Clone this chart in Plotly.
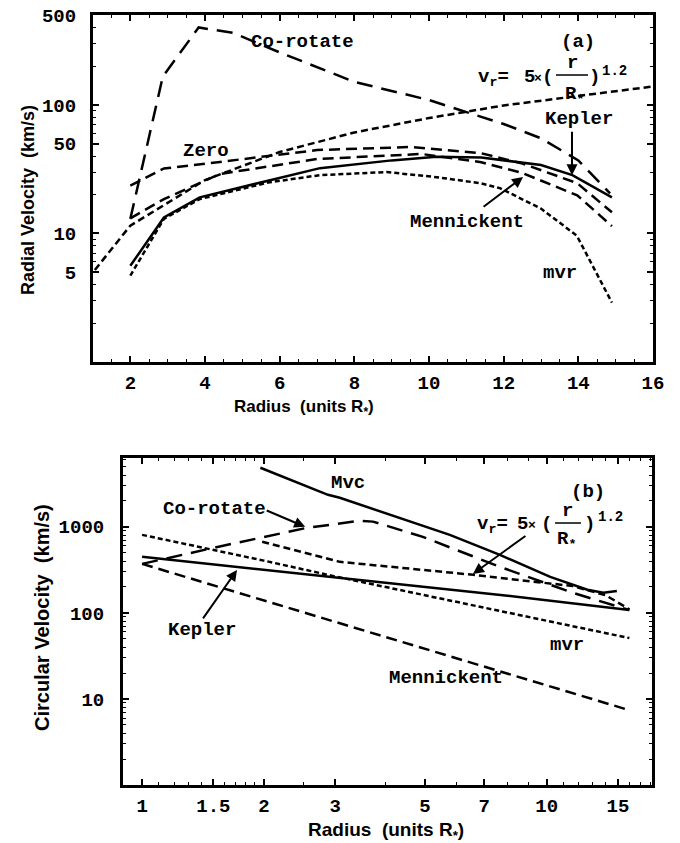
import math
import plotly.graph_objects as go

# ---------------- Panel (a): radial velocity ----------------
r_corot_a = [2.0, 2.87, 3.83, 4.75, 6.0, 8.0, 10.0, 12.0, 13.0, 14.0, 14.85]
v_corot_a = [13.0, 166, 400, 363, 256, 151, 109, 71, 55, 37, 20.5]

r_vr_a = [1.05, 2, 4, 6, 8, 10, 12, 14, 16]
v_vr_a = [5.2, 11.5, 26, 43, 61, 79, 99, 118, 139]

r_zero_a = [2.0, 2.9, 4.4, 7.0, 9.5, 11.4, 12.5, 13.97, 14.9]
v_zero_a = [23.5, 32, 36, 44.5, 47, 42, 35, 24.6, 14.6]

r_menn_a = [2.0, 2.9, 4.4, 7.0, 9.8, 11.4, 12.5, 13.97, 14.9]
v_menn_a = [13.1, 18.5, 29, 37.9, 41.5, 35.8, 29.5, 19.8, 11.4]

r_kep_a = [2.0, 2.9, 3.86, 5.73, 7.08, 9.0, 10.2, 11.4, 13.0, 13.84, 14.9]
v_kep_a = [5.6, 13.3, 19.1, 26, 32.2, 37, 39.5, 39, 34, 28.4, 19.1]

r_mvr_a = [2.0, 2.9, 3.86, 5.73, 7.08, 8.87, 10.2, 11.37, 11.9, 13.0, 13.96, 14.9]
v_mvr_a = [4.7, 13.0, 18.5, 25, 28.4, 30, 27.4, 24.6, 22.5, 15.6, 9.6, 2.9]

xt_a = [2, 4, 6, 8, 10, 12, 14, 16]
yt_a = [5, 10, 50, 100, 500]

# ---------------- Panel (b): circular velocity ----------------
r_mvc_b = [1.96, 2.88, 3.08, 5.76, 7.66, 10.2, 12.6, 13.8, 14.9]
v_mvc_b = [4860, 2356, 2175, 807, 472, 262, 186, 171, 180]

r_corot_b = [1.0, 1.5, 2.55, 3.45, 3.72, 4.94, 7.66, 11.6, 16.0]
v_corot_b = [371, 570, 973, 1175, 1150, 765, 343, 171, 108]

r_vr_b = [1.98, 3.08, 6.58, 11.6, 14.0, 16.0]
v_vr_b = [670, 392, 277, 205, 160, 110]

r_mvr_b = [1.0, 2.0, 3.0, 5.0, 7.0, 10.0, 16.0]
v_mvr_b = [807, 405, 265, 160, 115, 80, 51]

r_kep_b = [1.0, 2.0, 4.0, 8.0, 16.0]
v_kep_b = [448, 316, 224, 158, 108]

r_menn_b = [1.0, 2.0, 4.0, 8.0, 16.0]
v_menn_b = [371, 140, 52, 19.6, 7.4]

xt_b = [1, 1.5, 2, 3, 5, 7, 10, 15]
yt_b = [10, 100, 1000]

# ---------------- figure ----------------
W, H = 680, 843
def px(x): return x / W
def py(y): return 1 - y / H

MONO = "Liberation Mono"
SANS = "Liberation Sans"

fig = go.Figure()

def add(r, v, dash, xa, ya):
    fig.add_trace(go.Scatter(x=r, y=v, mode="lines",
                             line=dict(color="black", width=2.5, dash=dash),
                             xaxis=xa, yaxis=ya, showlegend=False, hoverinfo="skip"))

LONG = "16px,9px"
MED = "11px,6px"
SHORT = "7px,4px"
DOT = "5px,3px"

add(r_corot_a, v_corot_a, LONG, "x", "y")
add(r_vr_a, v_vr_a, SHORT, "x", "y")
add(r_zero_a, v_zero_a, MED, "x", "y")
add(r_menn_a, v_menn_a, MED, "x", "y")
add(r_kep_a, v_kep_a, "solid", "x", "y")
add(r_mvr_a, v_mvr_a, DOT, "x", "y")

add(r_mvc_b, v_mvc_b, "solid", "x2", "y2")
add(r_corot_b, v_corot_b, LONG, "x2", "y2")
add(r_vr_b, v_vr_b, SHORT, "x2", "y2")
add(r_mvr_b, v_mvr_b, DOT, "x2", "y2")
add(r_kep_b, v_kep_b, "solid", "x2", "y2")
add(r_menn_b, v_menn_b, MED, "x2", "y2")

tickfont = dict(family=MONO, size=19, color="black", weight="bold")
common = dict(showline=True, linewidth=3, linecolor="black", mirror="allticks",
              ticks="inside", ticklen=6, tickwidth=1.5, tickcolor="black",
              showgrid=False, zeroline=False, tickfont=tickfont, automargin=False)

minor_a_y = [m * d for d in (1, 10, 100) for m in range(2, 10) if m * d < 500]
minor_b_y = [m * d for d in (1, 10, 100, 1000) for m in range(2, 10) if m * d < 6300]
minor_b_x = [0.9] + [1 + 0.1 * i for i in range(1, 10)] + [2.5, 4, 6, 8, 9] + list(range(11, 19))

fig.update_layout(
    width=W, height=H, margin=dict(l=0, r=0, t=0, b=0, autoexpand=False),
    paper_bgcolor="white", plot_bgcolor="white",
    xaxis=dict(domain=[px(93), px(653)], anchor="y", range=[1, 16],
               tickvals=xt_a, ticktext=[str(v) for v in xt_a], ticklabelstandoff=1,
               minor=dict(dtick=0.5, ticklen=3, tickwidth=1, tickcolor="black", ticks="inside"),
               **common),
    yaxis=dict(domain=[py(362), py(15)], anchor="x", type="log", range=[0, math.log10(500)],
               tickvals=yt_a, ticktext=[str(v) for v in yt_a], ticklabelstandoff=10,
               minor=dict(tickvals=minor_a_y, ticklen=3, tickwidth=1, tickcolor="black", ticks="inside"),
               **common),
    xaxis2=dict(domain=[px(123), px(652)], anchor="y2", type="log",
                range=[math.log10(0.897), math.log10(18.2)],
                tickvals=xt_b, ticktext=[str(v) for v in xt_b], ticklabelstandoff=1,
                minor=dict(tickvals=minor_b_x, ticklen=3, tickwidth=1, tickcolor="black", ticks="inside"),
                **common),
    yaxis2=dict(domain=[py(785), py(458)], anchor="x2", type="log", range=[0, 3.8],
                tickvals=yt_b, ticktext=[str(v) for v in yt_b], ticklabelstandoff=12,
                minor=dict(tickvals=minor_b_y, ticklen=3, tickwidth=1, tickcolor="black", ticks="inside"),
                **common),
)

ann = []
def text(s, x, y, size=19, family=MONO, xanchor="center", angle=0, weight="bold"):
    ann.append(dict(text=s, x=px(x), y=py(y), xref="paper", yref="paper",
                    xanchor=xanchor, yanchor="middle", showarrow=False, textangle=angle,
                    font=dict(family=family, size=size, color="black", weight=weight)))

def arrow(xref, yref, hx, hy, ax, ay, logx=False, logy=False):
    ann.append(dict(text="", x=math.log10(hx) if logx else hx, y=math.log10(hy) if logy else hy,
                    xref=xref, yref=yref, ax=ax, ay=ay, showarrow=True,
                    arrowhead=2, arrowsize=1.1, arrowwidth=2, arrowcolor="black", standoff=0))

# axis titles
text("Radial Velocity&nbsp;&nbsp;(km/s)", 28, 200, size=18, family=SANS, angle=-90)
text("Radius&nbsp;&nbsp;(units R<sub>*</sub>)", 304, 408, size=17, family=SANS)
text("Circular Velocity&nbsp;&nbsp;(km/s)", 42, 618, size=20, family=SANS, angle=-90)
text("Radius&nbsp;&nbsp;(units R<sub>*</sub>)", 386, 831, size=19, family=SANS)

# panel (a) labels
text("Co-rotate", 302, 42)
text("(a)", 578, 42)
text("Kepler", 579, 119)
text("Zero", 206, 151)
text("Mennickent", 467, 222)
text("mvr", 560, 273)
text("v<sub>r</sub>=", 511, 78, xanchor="right")
text("5", 529, 77)
text("×", 538, 78, size=13)
text("(", 547, 77)
text("r", 572, 63)
text("R<sub>*</sub>", 574, 95)
text(")", 594, 77)
text("1.2", 614, 71, size=14)

arrow("x", "y", 13.83, 28.4, 0, -45, logy=True)
arrow("x", "y", 12.52, 27.5, -41, 31, logy=True)

# panel (b) labels
text("Mvc", 348, 483)
text("(b)", 588, 492)
text("Co-rotate", 214, 509)
text("Kepler", 202, 630)
text("mvr", 567, 645)
text("Mennickent", 446, 678)
text("v<sub>r</sub>=", 510, 525, xanchor="right")
text("5", 522, 524)
text("×", 532, 525, size=13)
text("(", 546, 524)
text("r", 567, 511)
text("R<sub>*</sub>", 566, 540)
text(")", 589, 524)
text("1.2", 610, 517, size=14)

arrow("x2", "y2", 2.53, 1000, -40, -17, logx=True, logy=True)
arrow("x2", "y2", 6.57, 284, 54, -39, logx=True, logy=True)
arrow("x2", "y2", 1.716, 316, -35, 50, logx=True, logy=True)

fig.update_layout(annotations=ann, shapes=[
    dict(type="line", xref="paper", yref="paper", x0=px(556), x1=px(588), y0=py(75), y1=py(75),
         line=dict(color="black", width=1.5)),
    dict(type="line", xref="paper", yref="paper", x0=px(555), x1=px(581), y0=py(523), y1=py(523),
         line=dict(color="black", width=1.5)),
])

fig.write_html("out.html")
